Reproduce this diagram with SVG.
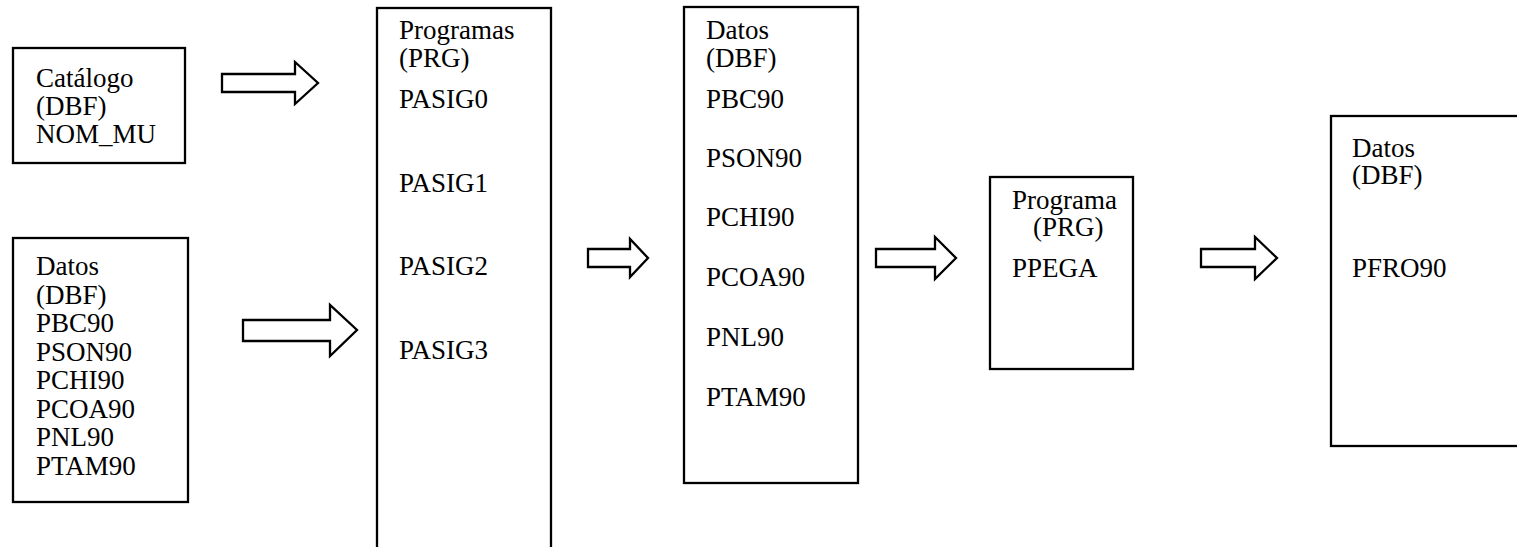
<svg xmlns="http://www.w3.org/2000/svg" width="1517" height="547" viewBox="0 0 1517 547">
<style>
.box{fill:#fff;stroke:#000;stroke-width:2.3}
.arr{fill:#fff;stroke:#000;stroke-width:2.3;stroke-linejoin:miter}
text{font-family:"Liberation Serif","Times New Roman",serif;font-size:27px;fill:#000}
</style>
<rect width="1517" height="547" fill="#fff"/>
<g id="n1">
<rect class="box" x="13" y="48" width="172" height="115"/>
<text x="36" y="87">Catálogo</text>
<text x="36" y="115">(DBF)</text>
<text x="36" y="143">NOM_MU</text>
</g>
<g id="n2">
<rect class="box" x="13" y="238" width="175" height="264"/>
<text x="36" y="275">Datos</text>
<text x="36" y="304">(DBF)</text>
<text x="36" y="332">PBC90</text>
<text x="36" y="361">PSON90</text>
<text x="36" y="389">PCHI90</text>
<text x="36" y="418">PCOA90</text>
<text x="36" y="446">PNL90</text>
<text x="36" y="475">PTAM90</text>
</g>
<g id="n3">
<rect class="box" x="377" y="8" width="174" height="560"/>
<text x="399" y="39">Programas</text>
<text x="399" y="67">(PRG)</text>
<text x="399" y="108">PASIG0</text>
<text x="399" y="192">PASIG1</text>
<text x="399" y="275">PASIG2</text>
<text x="399" y="359">PASIG3</text>
</g>
<g id="n4">
<rect class="box" x="684" y="7" width="174" height="476"/>
<text x="706" y="39">Datos</text>
<text x="706" y="67">(DBF)</text>
<text x="706" y="108">PBC90</text>
<text x="706" y="167">PSON90</text>
<text x="706" y="226">PCHI90</text>
<text x="706" y="286">PCOA90</text>
<text x="706" y="346">PNL90</text>
<text x="706" y="406">PTAM90</text>
</g>
<g id="n5">
<rect class="box" x="990" y="177" width="143" height="192"/>
<text x="1012" y="209">Programa</text>
<text x="1033" y="236">(PRG)</text>
<text x="1012" y="277">PPEGA</text>
</g>
<g id="n6">
<rect class="box" x="1331" y="116" width="200" height="330"/>
<text x="1352" y="157">Datos</text>
<text x="1352" y="184">(DBF)</text>
<text x="1352" y="277">PFRO90</text>
</g>
<g id="connectors">
<polygon class="arr" points="222,74 295,74 295,62 318,83 295,104 295,92 222,92"/>
<polygon class="arr" points="243,320 330,320 330,305 357,330 330,356 330,341 243,341"/>
<polygon class="arr" points="588,249 630,249 630,239 648,258 630,277 630,267 588,267"/>
<polygon class="arr" points="876,249 935,249 935,237 956,258 935,279 935,267 876,267"/>
<polygon class="arr" points="1201,249 1255,249 1255,237 1277,258 1255,279 1255,267 1201,267"/>
</g>
</svg>
